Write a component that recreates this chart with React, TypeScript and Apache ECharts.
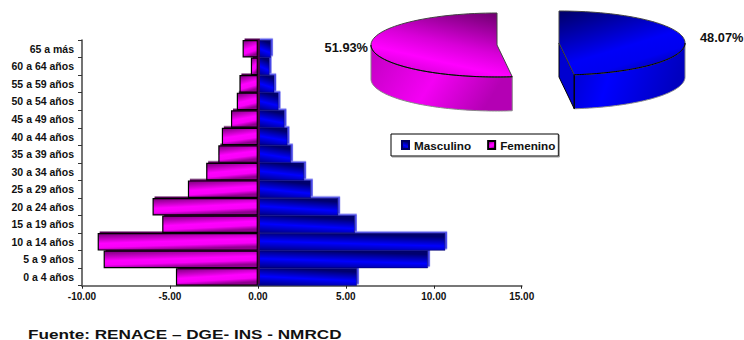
import React, { useEffect, useRef } from "react";
import * as echarts from "echarts";

const categories = [
  "0 a 4 años", "5 a 9 años", "10 a 14 años", "15 a 19 años", "20 a 24 años",
  "25 a 29 años", "30 a 34 años", "35 a 39 años", "40 a 44 años", "45 a 49 años",
  "50 a 54 años", "55 a 59 años", "60 a 64 años", "65 a más",
];
const masculino = [5.63, 9.67, 10.65, 5.51, 4.56, 3.01, 2.63, 1.88, 1.68, 1.51, 1.17, 0.93, 0.66, 0.74];
const femenino = [-4.66, -8.77, -9.11, -5.44, -5.99, -3.98, -2.94, -2.25, -2.05, -1.53, -1.2, -1.05, -0.4, -0.87];
const shareNames = ["Femenino", "Masculino"];
const shareValues = [51.93, 48.07];
const FONT = '"Liberation Sans", Arial, sans-serif';

const grad = (x: number, y: number, x2: number, y2: number, stops: [number, string][]) =>
  new echarts.graphic.LinearGradient(x, y, x2, y2, stops.map(([offset, color]) => ({ offset, color })));

const barBlue = () => grad(0.3, 0, 0, 1, [[0, "#00006e"], [0.5, "#0000ff"], [1, "#000080"]]);
const barPink = () => grad(0, 0, 0.3, 1, [[0, "#7a007a"], [0.55, "#ff00ff"], [0.78, "#f800f8"], [1, "#900090"]]);

function ellipseArc(cx: number, cy: number, rx: number, ry: number, from: number, to: number) {
  const pts: number[][] = [];
  const n = 72;
  for (let i = 0; i <= n; i++) {
    const t = from + ((to - from) * i) / n;
    pts.push([cx + rx * Math.sin(t), cy - ry * Math.cos(t)]);
  }
  return pts;
}

function renderPie(_: any, api: any) {
  const share = api.value(0) / 100;
  const isFemale = api.value(1) === 0;
  const rx = 126, ry = 32, depth = 34;
  const cx = isFemale ? 497 : 559;
  const cy = isFemale ? 45 : 43;
  const sweep = share * Math.PI * 2;
  const from = isFemale ? Math.PI * 2 - sweep : 0;
  const to = isFemale ? Math.PI * 2 : sweep;
  const arc = ellipseArc(cx, cy, rx, ry, from, to);
  const centre = [cx, cy];
  const top = [centre, ...arc];
  const line = { stroke: "#000", lineWidth: 1 };
  const children: any[] = [];

  // visible rim: the part of the arc in the lower half of the ellipse
  const rimFrom = isFemale ? from : Math.PI / 2;
  const rimTo = isFemale ? (Math.PI * 3) / 2 : to;
  const rim = ellipseArc(cx, cy, rx, ry, rimFrom, rimTo);
  const rimDown = rim.map(([x, y]) => [x, y + depth]).reverse();
  const sideFill = isFemale
    ? grad(0, 0, 1, 0.3, [[0, "#c000c0"], [0.55, "#f400f4"], [1, "#b400b4"]])
    : grad(0, 0, 1, 0.2, [[0, "#0000c8"], [0.4, "#0000ff"], [1, "#0000c0"]]);
  children.push({
    type: "polygon",
    shape: { points: [...rim, ...rimDown] },
    style: { fill: sideFill, stroke: "#888", lineWidth: 1 },
  });
  if (!isFemale) {
    const tip = arc[arc.length - 1];
    children.push({
      type: "polygon",
      shape: { points: [centre, tip, [tip[0], tip[1] + depth], [cx, cy + depth]] },
      style: { fill: "#0000d0", ...line },
    });
    children.push({
      type: "line",
      shape: { x1: tip[0], y1: tip[1], x2: tip[0], y2: tip[1] + depth },
      style: line,
    });
  }
  const topFill = isFemale
    ? grad(0.85, 0, 0.35, 1, [[0, "#720072"], [0.5, "#d800d8"], [0.75, "#ff00ff"], [1, "#d000d0"]])
    : grad(0.1, 0, 0.7, 1, [[0, "#000070"], [0.6, "#0000f8"], [0.8, "#0000f0"], [1, "#0000a8"]]);
  children.push({
    type: "polygon",
    shape: { points: top },
    style: { fill: topFill, stroke: "#444", lineWidth: 1 },
  });
  children.push({
    type: "polyline",
    shape: { points: rim },
    style: { fill: "none", ...line },
  });
  children.push({
    type: "text",
    style: {
      text: shareValues[isFemale ? 0 : 1].toFixed(2) + "%",
      x: isFemale ? 368 : 700,
      y: isFemale ? 47 : 37,
      align: isFemale ? "right" : "left",
      verticalAlign: "middle",
      fill: "#111",
      font: `bold 12.8px ${FONT}`,
    },
  });
  return { type: "group", children };
}

export default function App() {
  const ref = useRef<HTMLDivElement>(null);
  useEffect(() => {
    const chart = echarts.init(ref.current!, null, { renderer: "svg" });
    chart.setOption({
      animation: false,
      backgroundColor: "#fff",
      textStyle: { fontFamily: FONT },
      graphic: [
        {
          type: "text",
          x: 28,
          y: 334,
          scaleX: 1.32,
          style: {
            text: "Fuente: RENACE – DGE- INS - NMRCD",
            verticalAlign: "middle",
            fill: "#111",
            font: `bold 13px ${FONT}`,
          },
        },
      ],
      legend: {
        data: ["Masculino", "Femenino"],
        left: 391,
        top: 134,
        orient: "horizontal",
        icon: "rect",
        itemWidth: 7,
        itemHeight: 8,
        itemGap: 16,
        padding: [5, 3, 5, 10],
        backgroundColor: "#fff",
        borderColor: "#000",
        borderWidth: 1,
        shadowColor: "#999",
        shadowOffsetX: 1,
        shadowOffsetY: 1,
        shadowBlur: 0,
        textStyle: { fontFamily: FONT, fontSize: 11.7, fontWeight: "bold", color: "#111" },
      },
      grid: { left: 82, right: 222.3, top: 40, bottom: 54.3, containLabel: false },
      xAxis: {
        type: "value",
        min: -10,
        max: 15,
        interval: 5,
        splitLine: { show: false },
        axisLine: { show: true, onZero: false, lineStyle: { color: "#777", width: 2 } },
        axisTick: { show: true, length: 3, lineStyle: { color: "#222" } },
        axisLabel: {
          formatter: (v: number) => v.toFixed(2),
          fontFamily: FONT,
          fontSize: 10,
          fontWeight: "bold",
          color: "#111",
          margin: 6,
        },
      },
      yAxis: {
        type: "category",
        data: categories,
        axisLine: { show: true, onZero: false, lineStyle: { color: "#444", width: 1.5 } },
        axisTick: { show: true, length: 4, lineStyle: { color: "#333" } },
        axisLabel: {
          fontFamily: FONT,
          fontSize: 10.5,
          fontWeight: "bold",
          color: "#111",
          margin: 8,
          padding: [2, 0, 0, 0],
        },
      },
      series: [
        {
          name: "Masculino",
          type: "bar",
          data: masculino,
          barGap: "-100%",
          barCategoryGap: 0,
          itemStyle: {
            color: barBlue(),
            borderColor: "#000060",
            borderWidth: 0.5,
            shadowColor: "#4646e8",
            shadowOffsetX: 2,
            shadowOffsetY: -1.5,
            shadowBlur: 0,
          },
        },
        {
          name: "Femenino",
          type: "bar",
          data: femenino,
          barGap: "-100%",
          barCategoryGap: 0,
          itemStyle: {
            color: barPink(),
            borderColor: "#000",
            borderWidth: 1.2,
            shadowColor: "#500050",
            shadowOffsetX: 2,
            shadowOffsetY: -1.5,
            shadowBlur: 0,
          },
        },
        {
          name: "Total por sexo",
          type: "custom",
          coordinateSystem: "none",
          renderItem: renderPie,
          data: shareValues.map((v, i) => ({ name: shareNames[i], value: [v, i] })),
          silent: true,
          z: 5,
        },
      ],
    });
    return () => chart.dispose();
  }, []);
  return <div ref={ref} style={{ position: "absolute", left: 0, top: 0, width: 744, height: 340 }} />;
}
